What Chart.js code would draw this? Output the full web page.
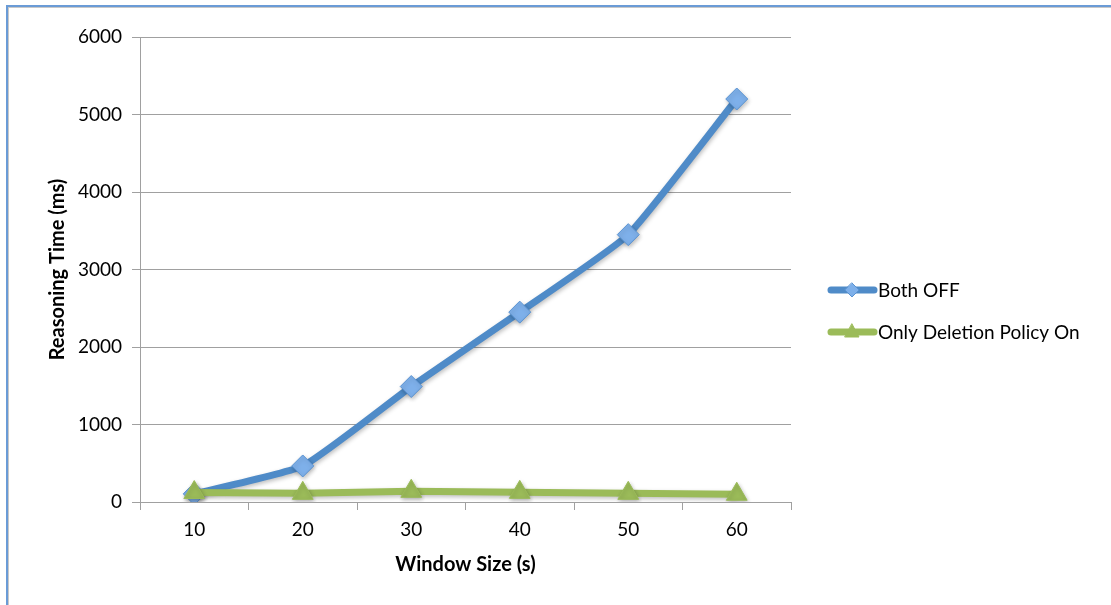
<!DOCTYPE html>
<html>
<head>
<meta charset="utf-8">
<script src="https://cdn.jsdelivr.net/npm/chart.js@4.4.1/dist/chart.umd.min.js"></script>
<style>
  html, body { margin: 0; padding: 0; background: #ffffff; }
  #wrap { position: relative; width: 1111px; height: 605px; overflow: hidden; }
  #frame {
    position: absolute; left: 6px; top: 5px; right: -10px; bottom: -10px;
    border-left: 2px solid #6a9bd6; border-top: 2px solid #6a9bd6;
    box-shadow: inset 1px 1px 0 #c8c8c8;
    pointer-events: none;
  }
  canvas { position: absolute; left: 0; top: 0; }
</style>
</head>
<body>
<div id="wrap">
  <canvas id="c" width="1111" height="605"></canvas>
  <div id="frame"></div>
</div>
<script>
const windowSizes = ['10', '20', '30', '40', '50', '60'];
const bothOff = [105, 465, 1490, 2450, 3450, 5200];
const deletionOnly = [122, 112, 138, 125, 112, 100];
const yTicks = [0, 1000, 2000, 3000, 4000, 5000, 6000];

const FONT = "Lato, 'Open Sans', 'Liberation Sans', sans-serif";
const BLUE = '#4f8bc8';
const GREEN = '#9bbb59';

// Legend drawn at the right of the plot, with a line and marker sample per series
const sideLegend = {
  id: 'sideLegend',
  afterDraw(chart) {
    const ctx = chart.ctx;
    const rows = [
      { ds: chart.data.datasets[0], y: 290 },
      { ds: chart.data.datasets[1], y: 332 }
    ];
    ctx.save();
    rows.forEach(r => {
      ctx.strokeStyle = r.ds.borderColor;
      ctx.lineWidth = r.ds.borderWidth;
      ctx.lineCap = 'round';
      ctx.beginPath();
      ctx.moveTo(831, r.y);
      ctx.lineTo(874, r.y);
      ctx.stroke();
      ctx.fillStyle = r.ds.pointBackgroundColor;
      ctx.strokeStyle = r.ds.pointBorderColor;
      ctx.lineWidth = 1;
      ctx.beginPath();
      if (r.ds.pointStyle === 'rectRot') {
        const s = 7;
        ctx.moveTo(852, r.y - s); ctx.lineTo(852 + s, r.y); ctx.lineTo(852, r.y + s); ctx.lineTo(852 - s, r.y); ctx.closePath();
      } else {
        ctx.moveTo(852, r.y - 8); ctx.lineTo(859, r.y + 5); ctx.lineTo(845, r.y + 5); ctx.closePath();
      }
      ctx.fill(); ctx.stroke();
      ctx.fillStyle = '#000000';
      ctx.font = '19px ' + FONT;
      ctx.textBaseline = 'middle';
      ctx.textAlign = 'left';
      ctx.fillText(r.ds.label, 878, r.y + 1);
    });
    ctx.restore();
  }
};

// Soft drop shadow beneath the data lines and markers
const softShadow = {
  id: 'softShadow',
  beforeDatasetsDraw(chart) {
    const ctx = chart.ctx;
    ctx.save();
    ctx.shadowColor = 'rgba(0,0,0,0.25)';
    ctx.shadowBlur = 4;
    ctx.shadowOffsetX = 1;
    ctx.shadowOffsetY = 2;
  },
  afterDatasetsDraw(chart) {
    chart.ctx.restore();
  }
};

new Chart(document.getElementById('c'), {
  type: 'line',
  data: {
    labels: windowSizes,
    datasets: [
      {
        label: 'Both OFF',
        data: bothOff,
        borderColor: BLUE,
        borderWidth: 7,
        pointStyle: 'rectRot',
        pointRadius: 11,
        pointBackgroundColor: '#7eb0ea',
        pointBorderColor: '#5a93d2',
        pointBorderWidth: 1,
        tension: 0.15,
        order: 2
      },
      {
        label: 'Only Deletion Policy On',
        data: deletionOnly,
        borderColor: GREEN,
        borderWidth: 7,
        pointStyle: 'triangle',
        pointRadius: 12,
        pointBackgroundColor: GREEN,
        pointBorderColor: GREEN,
        pointBorderWidth: 1,
        tension: 0,
        order: 1
      }
    ]
  },
  options: {
    responsive: false,
    animation: false,
    devicePixelRatio: 1,
    layout: { padding: { left: 0, top: 37, right: 320, bottom: 0 } },
    plugins: {
      legend: { display: false },
      tooltip: { enabled: false }
    },
    scales: {
      x: {
        offset: true,
        grid: {
          offset: true,
          drawOnChartArea: false,
          drawTicks: true,
          tickLength: 8,
          color: '#a0a0a0',
          lineWidth: 1
        },
        border: { display: true, color: '#a0a0a0', width: 1 },
        ticks: {
          color: '#000000',
          font: { family: FONT, size: 19 },
          padding: 8,
          maxRotation: 0
        },
        title: {
          display: true,
          text: 'Window Size (s)',
          color: '#000000',
          font: { family: FONT, size: 20, weight: 'bold' },
          padding: { top: 12, bottom: 28 }
        },
        afterFit(scale) { scale.height = 103; }
      },
      y: {
        min: 0,
        max: 6000,
        afterBuildTicks(scale) { scale.ticks = yTicks.map(v => ({ value: v })); },
        grid: {
          color: '#a0a0a0',
          lineWidth: 1,
          tickLength: 8,
          drawTicks: true
        },
        border: { display: true, color: '#a0a0a0', width: 1 },
        ticks: {
          color: '#000000',
          font: { family: FONT, size: 19 },
          padding: 10,
          callback: v => String(v)
        },
        title: {
          display: true,
          text: 'Reasoning Time (ms)',
          color: '#000000',
          font: { family: FONT, size: 20, weight: 'bold' },
          padding: { top: 46, bottom: 12 }
        },
        afterFit(scale) { scale.width = 140; }
      }
    }
  },
  plugins: [softShadow, sideLegend]
});
</script>
</body>
</html>
